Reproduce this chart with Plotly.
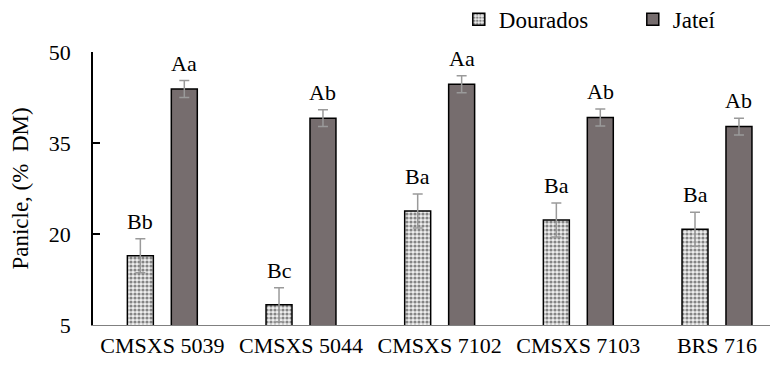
import plotly.graph_objects as go

categories = ["CMSXS 5039", "CMSXS 5044", "CMSXS 7102", "CMSXS 7103", "BRS 716"]
dourados = [16.4, 8.35, 23.8, 22.3, 20.8]
dourados_err = [2.8, 2.8, 2.8, 2.8, 2.8]
jatei = [43.9, 39.1, 44.7, 39.2, 37.7]
jatei_err = [1.4, 1.4, 1.4, 1.4, 1.4]
dourados_letters = ["Bb", "Bc", "Ba", "Ba", "Ba"]
jatei_letters = ["Aa", "Ab", "Aa", "Ab", "Ab"]
y_ticks = [5, 20, 35, 50]

FONT = "Liberation Serif, Times New Roman, serif"
BARGAP = 0.366
BARGROUPGAP = 0.409

fig = go.Figure()
fig.add_trace(go.Bar(
    name="Dourados", x=categories, y=dourados,
    marker=dict(color="white", line=dict(color="black", width=1.5),
                pattern=dict(shape=".", fgcolor="#1a1a1a", bgcolor="#eeeeee",
                             size=4, solidity=0.5)),
    error_y=dict(type="data", array=dourados_err, color="#9a9a9a",
                 thickness=1.5, width=5),
))
fig.add_trace(go.Bar(
    name="Jateí", x=categories, y=jatei,
    marker=dict(color="#766d6e", line=dict(color="black", width=1.5)),
    error_y=dict(type="data", array=jatei_err, color="#9a9a9a",
                 thickness=1.5, width=5),
))

off = (1 - BARGAP) / 4
annotations = []
for i in range(len(categories)):
    annotations.append(dict(x=i - off, y=dourados[i] + dourados_err[i],
                            xref="x", yref="y", text=dourados_letters[i],
                            showarrow=False, yanchor="bottom", yshift=3,
                            font=dict(family=FONT, size=22, color="black")))
    annotations.append(dict(x=i + off, y=jatei[i] + jatei_err[i],
                            xref="x", yref="y", text=jatei_letters[i],
                            showarrow=False, yanchor="bottom", yshift=3,
                            font=dict(family=FONT, size=22, color="black")))

fig.update_layout(
    width=770, height=360,
    margin=dict(l=85, r=0, t=44, b=43, autoexpand=False),
    paper_bgcolor="white", plot_bgcolor="white",
    barmode="group", bargap=BARGAP, bargroupgap=BARGROUPGAP,
    font=dict(family=FONT, size=22, color="black"),
    showlegend=True,
    legend=dict(orientation="h", x=0.534, y=1.12, xanchor="left", yanchor="middle",
                font=dict(family=FONT, size=23, color="black"),
                entrywidth=129, itemwidth=30, bgcolor="rgba(0,0,0,0)"),
    annotations=annotations,
)
fig.update_xaxes(type="category", range=[-0.5, 4.44], showline=True,
                 linecolor="#808080", linewidth=1.2, ticks="", showgrid=False,
                 tickangle=0, automargin=False,
                 tickfont=dict(family=FONT, size=22, color="black"))
fig.update_yaxes(range=[5, 50], tickvals=y_ticks, showline=True,
                 linecolor="black", linewidth=1.5, ticks="inside", ticklen=7,
                 tickcolor="black", tickwidth=1.5, showgrid=False, zeroline=False,
                 ticklabelstandoff=16, automargin=False,
                 tickfont=dict(family=FONT, size=22, color="black"),
                 title=dict(text="Panicle, (%  DM)", standoff=16,
                            font=dict(family=FONT, size=23, color="black")))

fig.write_html("out.html")
